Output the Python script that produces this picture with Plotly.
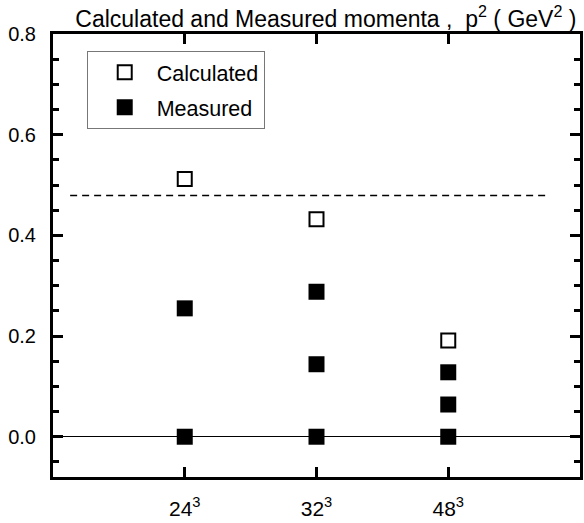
import plotly.graph_objects as go

# Data
lattice_labels = ["24<sup>3</sup>", "32<sup>3</sup>", "48<sup>3</sup>"]
lattice_pos = [1, 2, 3]

calc_x = [1, 2, 3]
calc_y = [0.512, 0.432, 0.191]

meas_x = [1, 1, 2, 2, 2, 3, 3, 3]
meas_y = [0.255, 0.0, 0.288, 0.144, 0.0, 0.128, 0.064, 0.0]

dash_x = [0.13, 3.76]
dash_y = [0.479, 0.479]

y_ticks = [0.0, 0.2, 0.4, 0.6, 0.8]
y_ticktext = ["0.0", "0.2", "0.4", "0.6", "0.8"]

FONT = "Liberation Sans, Arial, Helvetica, sans-serif"
PAD = "\u00a0\u00a0"

fig = go.Figure()

fig.add_trace(go.Scatter(
    x=dash_x, y=dash_y, mode="lines",
    line=dict(color="black", width=1.5, dash="7px,5px"),
    showlegend=False, hoverinfo="skip",
))

fig.add_trace(go.Scatter(
    x=calc_x, y=calc_y, mode="markers", name=PAD + "Calculated",
    marker=dict(symbol="square-open", size=14, color="black",
                line=dict(color="black", width=2)),
    legendgroup="a",
))
fig.add_trace(go.Scatter(
    x=meas_x, y=meas_y, mode="markers", name=PAD + "Measured",
    marker=dict(symbol="square", size=16, color="black",
                line=dict(width=0)),
    legendgroup="b",
))

fig.update_layout(
    width=584, height=523,
    margin=dict(l=53, r=1, t=34, b=46),
    paper_bgcolor="white", plot_bgcolor="white",
    font=dict(family=FONT, color="black", size=20),
    title=dict(text="Calculated and Measured momenta ,  p<sup>2</sup> ( GeV<sup>2</sup> )",
               x=0.558, xanchor="center", y=0.98, yanchor="top",
               font=dict(size=23, family=FONT)),
    showlegend=True,
    legend=dict(x=0.064, y=0.962, xanchor="left", yanchor="top",
                bordercolor="#777777", borderwidth=1, bgcolor="white",
                font=dict(size=21.5, family=FONT),
                traceorder="grouped", tracegroupgap=4, indentation=17),
)

fig.update_xaxes(
    range=[0, 4], tickvals=lattice_pos, ticktext=lattice_labels,
    showline=True, linecolor="black", linewidth=3, mirror="ticks",
    ticks="inside", ticklen=10, tickwidth=2.5, tickcolor="black",
    showgrid=False, zeroline=False, ticklabelstandoff=11,
    tickfont=dict(size=21, family=FONT),
)
fig.update_yaxes(
    range=[-0.08, 0.8], tickvals=y_ticks, ticktext=y_ticktext,
    showline=True, linecolor="black", linewidth=3, mirror="ticks",
    ticks="inside", ticklen=10, tickwidth=2.5, tickcolor="black",
    minor=dict(dtick=0.05, tick0=0, ticks="inside", ticklen=6, tickwidth=2.5, tickcolor="black"),
    showgrid=False, zeroline=True, zerolinecolor="black", zerolinewidth=1,
    ticklabelstandoff=10,
    tickfont=dict(size=20, family=FONT),
)

fig.write_html("out.html")
